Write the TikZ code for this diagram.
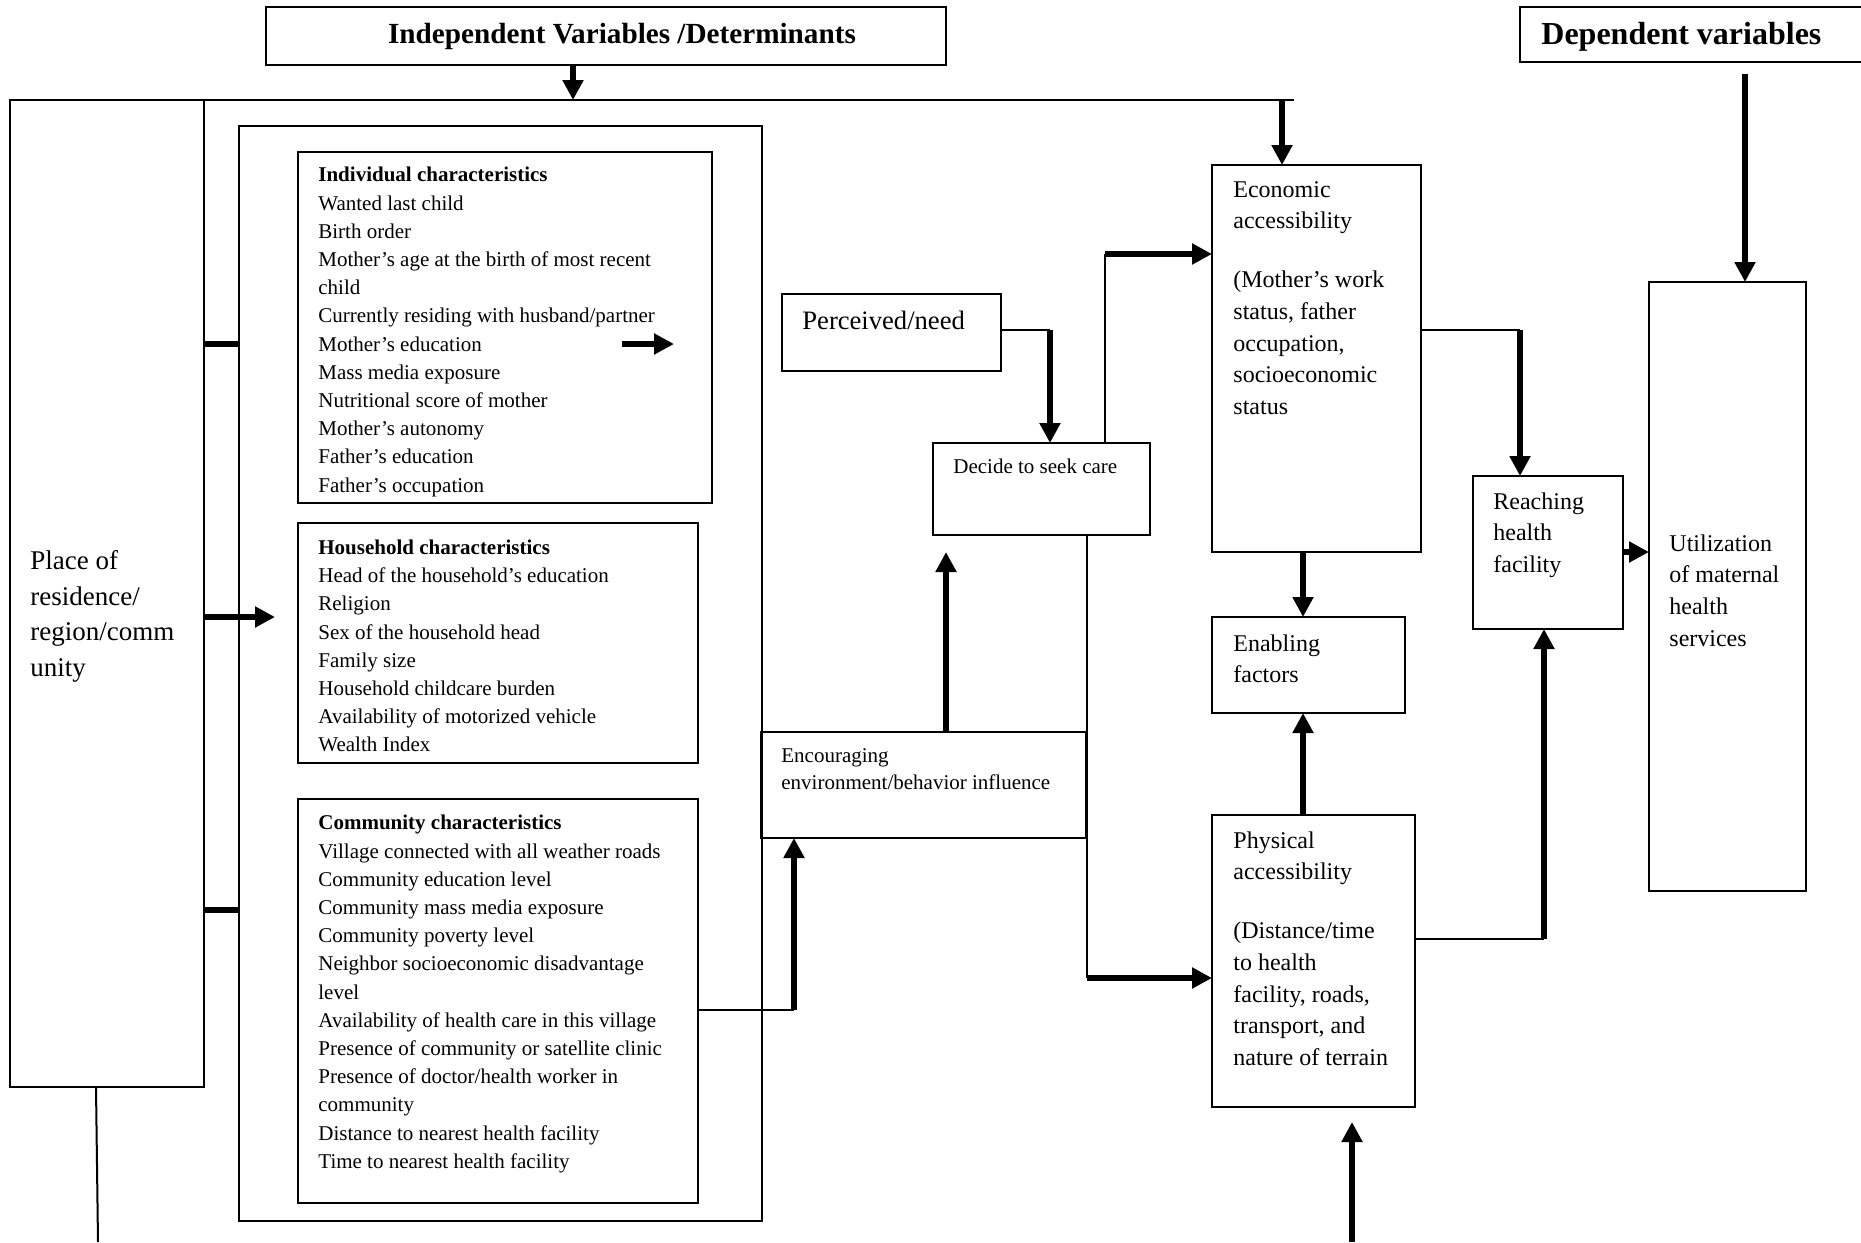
\documentclass[tikz,border=0pt]{standalone}
\usepackage{fontspec}
\setmainfont{Liberation Serif}
\usetikzlibrary{arrows.meta,calc}
\begin{document}
\begin{tikzpicture}[x=0.5pt,y=-0.5pt,
  bx/.style={draw, line width=1pt, inner sep=0pt, outer sep=0pt, anchor=north west},
  txt/.style={anchor=north west, inner sep=0pt, align=left},
  thin/.style={line width=1pt},
  thk/.style={line width=3.2pt},
  thka/.style={line width=3.2pt, -{Triangle[length=10pt,width=10pt]}},
  sm/.style={font=\fontsize{10.5}{14.1}\selectfont},
  md/.style={font=\fontsize{12}{15.85}\selectfont},
]
\useasboundingbox (0,0) rectangle (1861,1242);
\clip (0,0) rectangle (1861,1242);

% titles
\node[bx, minimum width=340pt, minimum height=29pt] (t1) at (266,7) {};
\node[font=\bfseries\fontsize{14.6}{17}\selectfont, inner sep=0pt] (t1t) at (622,36) {Independent Variables /Determinants};
\node[bx, minimum width=190pt, minimum height=27.5pt] (t2) at (1520,7) {};
\node[anchor=west, inner sep=0pt, font=\bfseries\fontsize{16}{19}\selectfont] (t2t) at (1541,37) {Dependent variables};

% left column
\node[bx, minimum width=97.25pt, minimum height=493.5pt] (left) at (9.5,100) {};
\node[txt, font=\fontsize{13.5}{17.8}\selectfont] (leftt) at (30,550) {Place of\\residence/\\region/comm\\unity};

\node[bx, minimum width=261.5pt, minimum height=547.5pt] (frame) at (239,126) {};

\node[bx, minimum width=207pt, minimum height=175.5pt] (ind) at (298,152) {};
\node[txt, sm] (indt) at (318,167) {\textbf{Individual characteristics}\\Wanted last child\\Birth order\\Mother’s age at the birth of most recent\\child\\Currently residing with husband/partner\\Mother’s education\\Mass media exposure\\Nutritional score of mother\\Mother’s autonomy\\Father’s education\\Father’s occupation};

\node[bx, minimum width=200pt, minimum height=120pt] (hh) at (298,523) {};
\node[txt, sm] (hht) at (318,539.5) {\textbf{Household characteristics}\\Head of the household’s education\\Religion\\Sex of the household head\\Family size\\Household childcare burden\\Availability of motorized vehicle\\Wealth Index};

\node[bx, minimum width=200pt, minimum height=202pt] (com) at (298,799) {};
\node[txt, sm] (comt) at (318,815) {\textbf{Community characteristics}\\Village connected with all weather roads\\Community education level\\Community mass media exposure\\Community poverty level\\Neighbor socioeconomic disadvantage\\level\\Availability of health care in this village\\Presence of community or satellite clinic\\Presence of doctor/health worker in\\community\\Distance to nearest health facility\\Time to nearest health facility};

% middle
\node[bx, minimum width=162.5pt, minimum height=53pt] (enc) at (761,732) {};
\node[txt, font=\fontsize{10.5}{13.5}\selectfont] (enct) at (781,748.5) {Encouraging\\environment/behavior influence};

\node[bx, minimum width=108.5pt, minimum height=46pt] (dec) at (933,443) {};
\node[txt, sm] (dect) at (953,459) {Decide to seek care};

\node[bx, minimum width=109.5pt, minimum height=38.5pt] (perc) at (782,294) {};
\node[txt, font=\fontsize{13.3}{16}\selectfont] (perct) at (802,311) {Perceived/need};

% right
\node[bx, minimum width=104.5pt, minimum height=193.5pt] (eco) at (1212,165) {};
\node[txt, md] (ecot) at (1233,181) {Economic\\accessibility\\[13.6pt](Mother’s work\\status, father\\occupation,\\socioeconomic\\status};

\node[bx, minimum width=96.5pt, minimum height=48pt] (ena) at (1212,617) {};
\node[txt, md] (enat) at (1233,634) {Enabling\\factors};

\node[bx, minimum width=101.5pt, minimum height=146pt] (phy) at (1212,815) {};
\node[txt, md] (phyt) at (1233,831) {Physical\\accessibility\\[13.6pt](Distance/time\\to health\\facility, roads,\\transport, and\\nature of terrain};

\node[bx, minimum width=75pt, minimum height=76.5pt] (rea) at (1473,476) {};
\node[txt, md] (reat) at (1493,492) {Reaching\\health\\facility};

\node[bx, minimum width=78.5pt, minimum height=304.5pt] (uti) at (1649,282) {};
\node[txt, md] (utit) at (1669,534) {Utilization\\of maternal\\health\\services};

% connectors
\coordinate (a1) at ($(t1.south west)+(307,0)$);
\draw[thka] (a1) -- (a1 |- left.north);
\coordinate (topend) at (1294,100);
\draw[line width=1pt] (left.north west) -- (topend);
\coordinate (a2) at ($(eco.north west)+(70,0)$);
\draw[thka] (a2 |- topend) -- (a2);

\coordinate (l1) at ($(left.north east)+(0,244)$);
\draw[thk] (l1) -- (l1 -| frame.west);
\coordinate (l2) at ($(left.north east)+(0,517)$);
\draw[thka] (l2) -- ++(71,0);
\coordinate (l3) at ($(left.north east)+(0,810)$);
\draw[thk] (l3) -- (l3 -| frame.west);

\coordinate (ia) at ($(ind.north west)+(324,192)$);
\draw[thka] (ia) -- ++(52,0);

\coordinate (ce) at ($(com.north east)+(0,211)$);
\coordinate (ce2) at ($(enc.south west)+(33,0)$);
\draw[thin] (ce) -- (ce -| ce2);
\draw[thka] (ce -| ce2) -- (ce2);

\coordinate (ed) at ($(enc.north west)+(185,0)$);
\draw[thka] (ed) -- ++(0,-180);

\coordinate (pd) at ($(dec.north west)+(117,0)$);
\coordinate (pd0) at ($(perc.north east)+(0,36)$);
\draw[thin] (pd0) -- (pd0 -| pd);
\draw[thka] (pd0 -| pd) -- (pd);

\coordinate (de) at ($(dec.north west)+(172,0)$);
\coordinate (de2) at ($(eco.north west)+(0,89)$);
\draw[thin] (de) -- (de |- de2);
\draw[thka] (de |- de2) -- (de2);

\coordinate (dp) at ($(dec.south west)+(154,0)$);
\coordinate (dp2) at ($(phy.north west)+(0,163)$);
\draw[thin] (dp) -- (dp |- dp2);
\draw[thka] (dp |- dp2) -- (dp2);

\coordinate (ee) at ($(eco.south west)+(91,0)$);
\draw[thka] (ee) -- (ee |- ena.north);
\coordinate (pe) at ($(phy.north west)+(91,0)$);
\draw[thka] (pe) -- (pe |- ena.south);

\coordinate (bt) at (1352,1242);
\draw[thka] (bt) -- ($(phy.south west)+(140,15)$);

\coordinate (er) at ($(eco.north east)+(0,165)$);
\coordinate (er2) at ($(rea.north west)+(47,0)$);
\draw[thin] (er) -- (er -| er2);
\draw[thka] (er -| er2) -- (er2);

\coordinate (pr) at ($(phy.north east)+(0,124)$);
\coordinate (pr2) at ($(rea.south west)+(71,0)$);
\draw[thin] (pr) -- (pr -| pr2);
\draw[thka] (pr -| pr2) -- (pr2);

\coordinate (ru) at ($(rea.north east)+(0,76)$);
\draw[thka] (ru) -- (ru -| uti.west);

\coordinate (tu) at ($(uti.north west)+(96,0)$);
\draw[thka] ($(t2.south west)+(225,12)$) -- (tu);

\coordinate (bl) at (98,1242);
\draw[thin] ($(left.south west)+(86.5,0)$) -- (bl);
\end{tikzpicture}
\end{document}
